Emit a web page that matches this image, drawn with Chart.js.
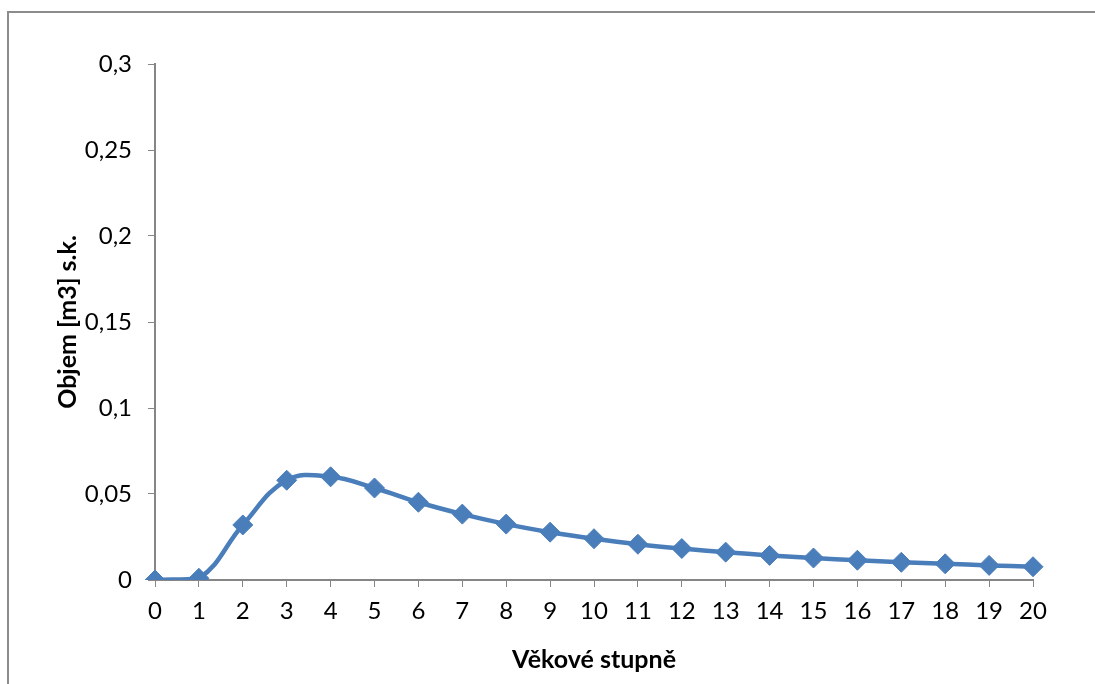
<!DOCTYPE html>
<html>
<head>
<meta charset="utf-8">
<script src="https://cdn.jsdelivr.net/npm/chart.js@4/dist/chart.umd.min.js"></script>
<style>
  html, body { margin: 0; padding: 0; background: #fff; }
  #frame { position: absolute; left: 7px; top: 11px; width: 1200px; height: 800px; border: 2px solid #8c8c8c; }
  #chart { position: absolute; left: 0; top: 0; }
</style>
</head>
<body>
<div id="frame"></div>
<canvas id="chart" width="1095" height="684"></canvas>
<script>
// vekove stupne
const categories = ['0','1','2','3','4','5','6','7','8','9','10','11','12','13','14','15','16','17','18','19','20'];
// objem [m3] s.k.
const volumes = [0, 0.001, 0.032, 0.058, 0.060, 0.0535, 0.0452, 0.0383, 0.0325, 0.0278, 0.0240, 0.0208, 0.0183, 0.0162, 0.0143, 0.0128, 0.0115, 0.0103, 0.0094, 0.0085, 0.0077];
const yTickValues = [0, 0.05, 0.1, 0.15, 0.2, 0.25, 0.3];
const yTickLabels = ['0', '0,05', '0,1', '0,15', '0,2', '0,25', '0,3'];

const blue = '#4a7ebb';
const axisGray = '#868686';
const fontFamily = 'Lato, "Open Sans", sans-serif';

const ctx = document.getElementById('chart').getContext('2d');
new Chart(ctx, {
    type: 'line',
    data: {
        labels: categories,
        datasets: [{
            data: volumes,
            borderColor: blue,
            backgroundColor: blue,
            borderWidth: 4.5,
            tension: 0.4,
            pointStyle: 'rectRot',
            pointRadius: 10,
            pointBackgroundColor: blue,
            pointBorderColor: blue,
            pointBorderWidth: 1
        }]
    },
    options: {
        responsive: false,
        animation: false,
        layout: { padding: { left: 53, top: 64, right: 62, bottom: 0 } },
        plugins: {
            legend: { display: false },
            tooltip: { enabled: false }
        },
        scales: {
            x: {
                type: 'category',
                offset: false,
                grid: { drawOnChartArea: false, drawTicks: true, tickLength: 7, color: axisGray, lineWidth: 1 },
                border: { color: axisGray, width: 2 },
                ticks: { color: '#000', font: { family: fontFamily, size: 24 }, padding: 10, maxRotation: 0, autoSkip: false },
                title: {
                    display: true,
                    text: 'Věkové stupně',
                    color: '#000',
                    font: { family: fontFamily, size: 25, weight: 'bold' },
                    padding: { top: 8, bottom: 9 }
                },
                afterFit: scale => { scale.height = 104; }
            },
            y: {
                min: 0,
                max: 0.3,
                afterBuildTicks: scale => { scale.ticks = yTickValues.map(v => ({ value: v })); },
                grid: { drawOnChartArea: false, drawTicks: true, tickLength: 7, color: axisGray, lineWidth: 1 },
                border: { color: axisGray, width: 2 },
                ticks: {
                    color: '#000',
                    font: { family: fontFamily, size: 24 },
                    padding: 16,
                    callback: (value, index) => yTickLabels[index]
                },
                title: {
                    display: true,
                    text: 'Objem [m3] s.k.',
                    color: '#000',
                    font: { family: fontFamily, size: 25, weight: 'bold' },
                    padding: { top: 0, bottom: 0 }
                },
                afterFit: scale => { scale.width = 102; }
            }
        }
    }
});
</script>
</body>
</html>
